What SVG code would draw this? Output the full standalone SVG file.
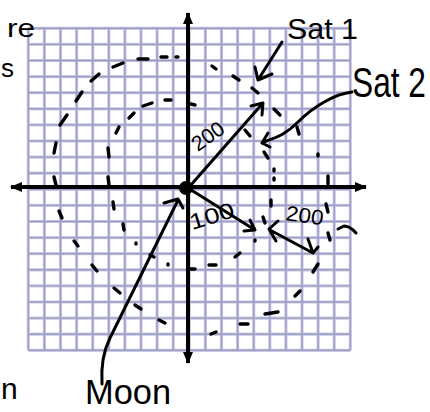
<svg xmlns="http://www.w3.org/2000/svg" width="430" height="412" viewBox="0 0 430 412">
<defs>
<style>
.gridw{fill:none;stroke:#cacae3;stroke-width:3.2}
.gridn{fill:none;stroke:#9c9cc8;stroke-width:1.4}
.axis{fill:none;stroke:#000;stroke-width:4}
.ink{fill:none;stroke:#000;stroke-width:3;stroke-linecap:round;stroke-linejoin:round}
.dash{fill:none;stroke:#000;stroke-width:3.4;stroke-linecap:round}
.hand{font-family:"Liberation Sans","DejaVu Sans",sans-serif;fill:#000}
</style>
<marker id="axhead" viewBox="0 0 12 10" refX="11" refY="5" markerWidth="12" markerHeight="10" markerUnits="userSpaceOnUse" orient="auto">
<path d="M0,0 L12,5 L0,10 Z" fill="#000"/>
</marker>
</defs>
<rect width="430" height="412" fill="#fff"/>
<g id="grid">
<path class="gridw" d="M28.3,28.3V350.3M44.4,28.3V350.3M60.5,28.3V350.3M76.6,28.3V350.3M92.7,28.3V350.3M108.8,28.3V350.3M124.9,28.3V350.3M141,28.3V350.3M157.1,28.3V350.3M173.2,28.3V350.3M189.3,28.3V350.3M205.4,28.3V350.3M221.5,28.3V350.3M237.6,28.3V350.3M253.7,28.3V350.3M269.8,28.3V350.3M285.9,28.3V350.3M302,28.3V350.3M318.1,28.3V350.3M334.2,28.3V350.3M350.3,28.3V350.3M28.3,28.3H350.3M28.3,44.4H350.3M28.3,60.5H350.3M28.3,76.6H350.3M28.3,92.7H350.3M28.3,108.8H350.3M28.3,124.9H350.3M28.3,141H350.3M28.3,157.1H350.3M28.3,173.2H350.3M28.3,189.3H350.3M28.3,205.4H350.3M28.3,221.5H350.3M28.3,237.6H350.3M28.3,253.7H350.3M28.3,269.8H350.3M28.3,285.9H350.3M28.3,302H350.3M28.3,318.1H350.3M28.3,334.2H350.3M28.3,350.3H350.3"/>
<path class="gridn" d="M28.3,28.3V350.3M44.4,28.3V350.3M60.5,28.3V350.3M76.6,28.3V350.3M92.7,28.3V350.3M108.8,28.3V350.3M124.9,28.3V350.3M141,28.3V350.3M157.1,28.3V350.3M173.2,28.3V350.3M189.3,28.3V350.3M205.4,28.3V350.3M221.5,28.3V350.3M237.6,28.3V350.3M253.7,28.3V350.3M269.8,28.3V350.3M285.9,28.3V350.3M302,28.3V350.3M318.1,28.3V350.3M334.2,28.3V350.3M350.3,28.3V350.3M28.3,28.3H350.3M28.3,44.4H350.3M28.3,60.5H350.3M28.3,76.6H350.3M28.3,92.7H350.3M28.3,108.8H350.3M28.3,124.9H350.3M28.3,141H350.3M28.3,157.1H350.3M28.3,173.2H350.3M28.3,189.3H350.3M28.3,205.4H350.3M28.3,221.5H350.3M28.3,237.6H350.3M28.3,253.7H350.3M28.3,269.8H350.3M28.3,285.9H350.3M28.3,302H350.3M28.3,318.1H350.3M28.3,334.2H350.3M28.3,350.3H350.3"/>
</g>
<g id="orbit-outer">
<path class="dash" d="M54,153L56,143M60,125L67,115M76,101L82,92M91,81L99,74M113,67L123,63M138,59L148,59M161,57L167,57M176,57L178,57M212,66L216,69M233,76L239,80M252,88L258,93M274,109L280,115M297,127L299,134M318,154L318,156M328,176L328,184M326,204L328,212M328,233L330,240M313,272L318,264M295,296L300,291M265,314L278,312M240,324L248,324M211,334L216,332M159,320L165,323M135,305L141,309M114,288L120,293M92,265L97,271M74,241L78,246M59,211L62,218M54,177L56,185"/>
<path class="ink" d="M338,229L344,226Q350,226 356,233"/>
</g>
<g id="orbit-inner">
<path class="dash" d="M108,177L109,185M108,148L109,157M116,133L119,127M129,118L134,113M143,106L152,103M165,100L171,100M191,104L195,105M245,130L250,136M264,152L268,158M274,169L274,171M274,178L274,180M271,200L271,206M263,217L265,223M255,240L255,241M235,257L240,253M209,265L216,265M190,269L195,269M168,264L168,265M150,255L154,257M136,243L136,244M123,224L124,230M113,202L114,209"/>
</g>
<g id="axes">
<line class="axis" x1="188" y1="187" x2="188" y2="13" marker-end="url(#axhead)"/>
<line class="axis" x1="188" y1="187" x2="188" y2="363" marker-end="url(#axhead)"/>
<line class="axis" x1="188" y1="187" x2="11" y2="187" marker-end="url(#axhead)"/>
<line class="axis" x1="188" y1="187" x2="366" y2="187" marker-end="url(#axhead)"/>
</g>
<g id="origin">
<circle cx="186" cy="188" r="6" fill="#000" stroke="#000" stroke-width="2"/>
</g>
<g id="connectors">
<path class="ink" d="M190,186L263,103M251,106L263,103L262,115"/>
<path class="ink" d="M188,188L255,230M250,220L255,230L244,231"/>
<path class="ink" d="M270,230L313,253M278,221L269,229L276,241M308,239L313,253L318,247"/>
<path class="ink" d="M282,42L258,80M255,67L258,80L272,74"/>
<path class="ink" d="M352,92C335,94 314,106 298,122S272,138 262,143M268,133L262,143L270,147"/>
<path class="ink" d="M102,384C101,368 103,352 110,338L178,200M164,203L178,199L183,208"/>
</g>
<g id="sat1">
<text class="hand" x="287" y="39" font-size="30" textLength="71" lengthAdjust="spacingAndGlyphs">Sat 1</text>
</g>
<g id="sat2">
<text class="hand" font-size="32" transform="translate(352,97) scale(1,1.3)" textLength="74" lengthAdjust="spacingAndGlyphs">Sat 2</text>
</g>
<g id="moon">
<text class="hand" font-size="28" transform="translate(85,404) scale(1,1.22)" textLength="86" lengthAdjust="spacingAndGlyphs">Moon</text>
</g>
<g id="label-200-sat">
<text class="hand" font-size="21" text-anchor="middle" transform="translate(212,142) rotate(-35)">200</text>
</g>
<g id="label-100">
<text class="hand" font-size="22" transform="translate(192,230) rotate(-17)" textLength="46" lengthAdjust="spacingAndGlyphs">100</text>
</g>
<g id="label-200-gap">
<text class="hand" font-size="21" transform="translate(285,220) rotate(8)" textLength="38" lengthAdjust="spacingAndGlyphs">200</text>
</g>
<g id="margin-text">
<text class="hand" x="7" y="37" font-size="26" textLength="28" lengthAdjust="spacingAndGlyphs">re</text>
<text class="hand" x="1" y="77" font-size="26">s</text>
<text class="hand" x="1" y="399" font-size="30">n</text>
</g>
</svg>
